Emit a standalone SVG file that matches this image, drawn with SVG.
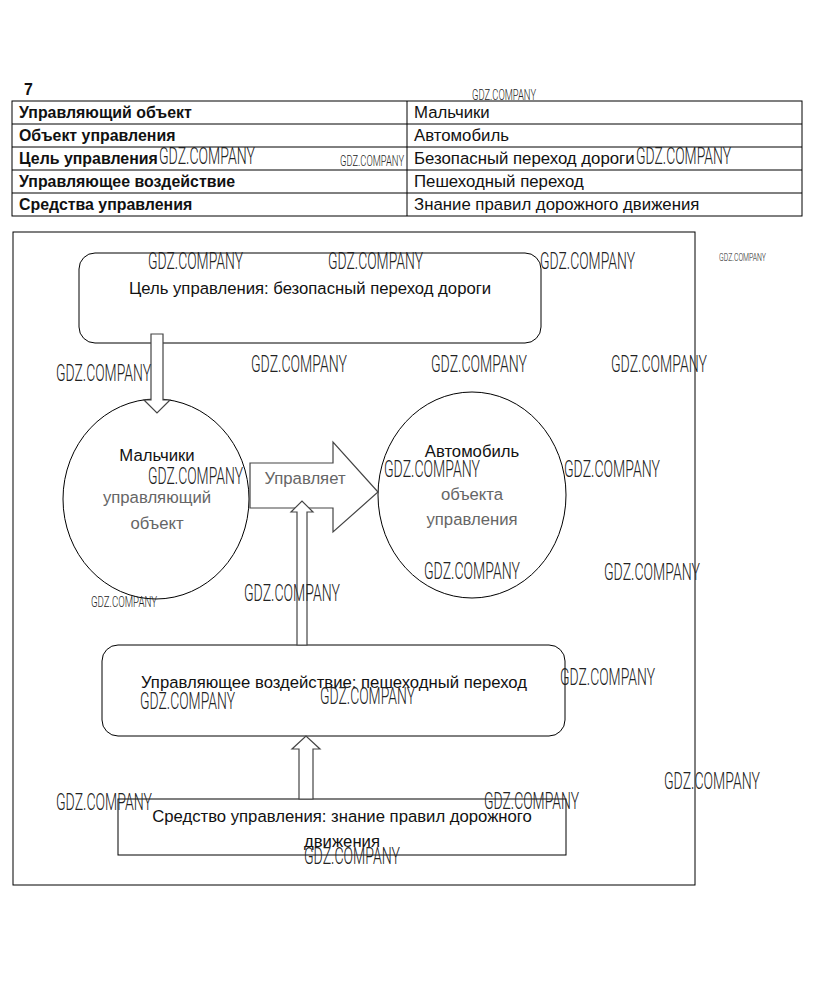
<svg xmlns="http://www.w3.org/2000/svg" width="823" height="1004" viewBox="0 0 823 1004">
<style>
.t{font-family:"Liberation Sans",Arial,sans-serif;font-size:16.8px;fill:#111}
.b{font-family:"Liberation Sans",Arial,sans-serif;font-size:15.9px;font-weight:bold;fill:#111}
.c{font-family:"Liberation Sans",Arial,sans-serif;font-size:16.7px;fill:#111;text-anchor:middle}
.f{fill:#666}
.ln{stroke:#000;stroke-width:1;fill:none}
.node{fill:#fff;stroke:#000;stroke-width:1}
.arr{fill:#fff;stroke:#444;stroke-width:1.2}
.w{font-family:Roboto,"Liberation Sans",sans-serif;font-weight:300;font-size:23px;fill:#222}
.ws{font-family:Roboto,"Liberation Sans",sans-serif;font-weight:300;font-size:15px;fill:#222}
.wt{font-family:Roboto,"Liberation Sans",sans-serif;font-weight:300;font-size:11px;fill:#222}
</style>
<rect width="823" height="1004" fill="#fff"/>
<text x="24" y="95" class="b">7</text>
<g id="table">
<rect x="12" y="101" width="790" height="115" class="ln"/>
<line x1="12" y1="124" x2="802" y2="124" class="ln"/>
<line x1="12" y1="147" x2="802" y2="147" class="ln"/>
<line x1="12" y1="170" x2="802" y2="170" class="ln"/>
<line x1="12" y1="193" x2="802" y2="193" class="ln"/>
<line x1="407" y1="101" x2="407" y2="216" class="ln"/>
<text x="19" y="118" class="b">Управляющий объект</text>
<text x="19" y="141" class="b">Объект управления</text>
<text x="19" y="164" class="b">Цель управления</text>
<text x="19" y="187" class="b">Управляющее воздействие</text>
<text x="19" y="210" class="b">Средства управления</text>
<text x="414" y="118" class="t">Мальчики</text>
<text x="414" y="141" class="t">Автомобиль</text>
<text x="414" y="164" class="t">Безопасный переход дороги</text>
<text x="414" y="187" class="t">Пешеходный переход</text>
<text x="414" y="210" class="t">Знание правил дорожного движения</text>
</g>
<rect id="frame" x="13" y="232" width="682" height="653" class="ln"/>
<g id="goal">
<rect x="79" y="253" width="462" height="90" rx="16" class="node"/>
<text x="310" y="294" class="c">Цель управления: безопасный переход дороги</text>
</g>
<g id="boy">
<ellipse cx="156" cy="499" rx="93" ry="100" class="node"/>
<text x="157" y="461" class="c">Мальчики</text>
<text x="157" y="503" class="c f">управляющий</text>
<text x="157" y="529" class="c f">объект</text>
</g>
<g id="car">
<ellipse cx="472" cy="495" rx="94" ry="103" class="node"/>
<text x="472" y="457" class="c">Автомобиль</text>
<text x="472" y="500" class="c f">объекта</text>
<text x="472" y="525" class="c f">управления</text>
</g>
<g id="action">
<rect x="102" y="645" width="463" height="91" rx="16" class="node"/>
<text x="334" y="688" class="c">Управляющее воздействие: пешеходный переход</text>
</g>
<g id="means">
<rect x="118" y="799" width="448" height="56" class="node"/>
<text x="342" y="822" class="c">Средство управления: знание правил дорожного</text>
<text x="342" y="847" class="c">движения</text>
</g>
<g id="connectors">
<polygon points="151,334 163,334 163,400 170,400 157,413 144,400 151,400" class="arr"/>
<polygon points="250,463 333,463 333,442 378,492 333,532 333,508 250,508" class="arr" stroke="#000" stroke-width="1"/>
<text x="305" y="484" class="c f">Управляет</text>
<polygon points="297,645 297,512 291,512 302,501 313,512 307,512 307,645" class="arr"/>
<polygon points="299,799 299,749 292,749 306,736 320,749 313,749 313,799" class="arr"/>
</g>
<g id="watermarks">
<text x="472" y="100" class="ws" textLength="64" lengthAdjust="spacingAndGlyphs">GDZ.COMPANY</text>
<text x="159" y="164" class="w" textLength="96" lengthAdjust="spacingAndGlyphs">GDZ.COMPANY</text>
<text x="340" y="166" class="ws" textLength="64" lengthAdjust="spacingAndGlyphs">GDZ.COMPANY</text>
<text x="636" y="164" class="w" textLength="95" lengthAdjust="spacingAndGlyphs">GDZ.COMPANY</text>
<text x="148" y="269" class="w" textLength="95" lengthAdjust="spacingAndGlyphs">GDZ.COMPANY</text>
<text x="328" y="269" class="w" textLength="95" lengthAdjust="spacingAndGlyphs">GDZ.COMPANY</text>
<text x="540" y="269" class="w" textLength="95" lengthAdjust="spacingAndGlyphs">GDZ.COMPANY</text>
<text x="719" y="261" class="wt" textLength="47" lengthAdjust="spacingAndGlyphs">GDZ.COMPANY</text>
<text x="56" y="381" class="w" textLength="95" lengthAdjust="spacingAndGlyphs">GDZ.COMPANY</text>
<text x="251" y="372" class="w" textLength="96" lengthAdjust="spacingAndGlyphs">GDZ.COMPANY</text>
<text x="431" y="372" class="w" textLength="96" lengthAdjust="spacingAndGlyphs">GDZ.COMPANY</text>
<text x="611" y="372" class="w" textLength="96" lengthAdjust="spacingAndGlyphs">GDZ.COMPANY</text>
<text x="148" y="484" class="w" textLength="95" lengthAdjust="spacingAndGlyphs">GDZ.COMPANY</text>
<text x="384" y="477" class="w" textLength="96" lengthAdjust="spacingAndGlyphs">GDZ.COMPANY</text>
<text x="564" y="477" class="w" textLength="96" lengthAdjust="spacingAndGlyphs">GDZ.COMPANY</text>
<text x="424" y="579" class="w" textLength="96" lengthAdjust="spacingAndGlyphs">GDZ.COMPANY</text>
<text x="604" y="580" class="w" textLength="96" lengthAdjust="spacingAndGlyphs">GDZ.COMPANY</text>
<text x="91" y="607" class="ws" textLength="66" lengthAdjust="spacingAndGlyphs">GDZ.COMPANY</text>
<text x="244" y="601" class="w" textLength="96" lengthAdjust="spacingAndGlyphs">GDZ.COMPANY</text>
<text x="560" y="685" class="w" textLength="95" lengthAdjust="spacingAndGlyphs">GDZ.COMPANY</text>
<text x="140" y="709" class="w" textLength="95" lengthAdjust="spacingAndGlyphs">GDZ.COMPANY</text>
<text x="320" y="704" class="w" textLength="95" lengthAdjust="spacingAndGlyphs">GDZ.COMPANY</text>
<text x="664" y="789" class="w" textLength="96" lengthAdjust="spacingAndGlyphs">GDZ.COMPANY</text>
<text x="56" y="810" class="w" textLength="96" lengthAdjust="spacingAndGlyphs">GDZ.COMPANY</text>
<text x="484" y="809" class="w" textLength="95" lengthAdjust="spacingAndGlyphs">GDZ.COMPANY</text>
<text x="304" y="864" class="w" textLength="96" lengthAdjust="spacingAndGlyphs">GDZ.COMPANY</text>
</g>
</svg>
